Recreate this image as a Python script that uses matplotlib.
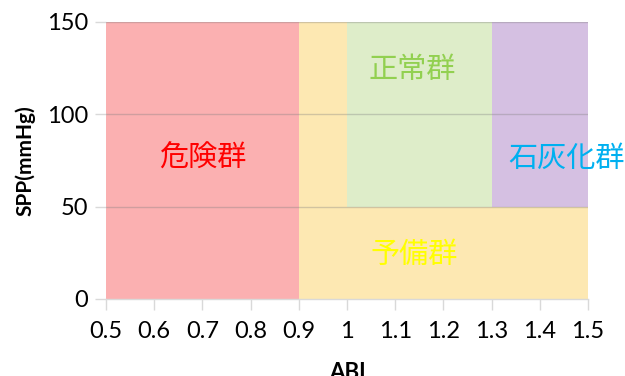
import matplotlib
matplotlib.use("Agg")
import matplotlib.pyplot as plt

# Zones of the ABI / SPP classification chart
zone_names = ["危険群", "予備群", "予備群", "正常群", "石灰化群"]
zone_abi_lo = [0.5, 0.9, 0.9, 1.0, 1.3]
zone_abi_hi = [0.9, 1.5, 1.0, 1.3, 1.5]
zone_spp_lo = [0, 0, 50, 50, 50]
zone_spp_hi = [150, 50, 150, 150, 150]
zone_colors = ["#FBB0B1", "#FDE8B2", "#FDE8B2", "#DEEDC9", "#D5C0E2"]

# Zone captions
label_texts = ["危険群", "正常群", "石灰化群", "予備群"]
label_abi = [0.70, 1.135, 1.455, 1.14]
label_spp = [76, 124, 76, 24]
label_colors = ["#FF0000", "#92D050", "#00B0F0", "#FFFF00"]

x_ticks = [0.5, 0.6, 0.7, 0.8, 0.9, 1.0, 1.1, 1.2, 1.3, 1.4, 1.5]
x_tick_labels = ["0.5", "0.6", "0.7", "0.8", "0.9", "1", "1.1", "1.2", "1.3", "1.4", "1.5"]
y_ticks = [0, 50, 100, 150]

fig = plt.figure(figsize=(6.25, 3.76), dpi=100)
ax = fig.add_axes([0.1696, 0.2048, 0.7712, 0.7367])

for lo, hi, b, t, c in zip(zone_abi_lo, zone_abi_hi, zone_spp_lo, zone_spp_hi, zone_colors):
    ax.bar(lo, t - b, width=hi - lo, bottom=b, align="edge", color=c,
           linewidth=0, zorder=1)

for yv in y_ticks[1:]:
    ax.axhline(yv, color="#7F7F7F", alpha=0.35, linewidth=1.0, zorder=2)

for txt, xv, yv, c in zip(label_texts, label_abi, label_spp, label_colors):
    ax.text(xv, yv, txt, color=c, fontsize=21, ha="center", va="center",
            family=["Noto Sans CJK JP", "DejaVu Sans"], zorder=3, clip_on=False)

ax.set_xlim(0.5, 1.5)
ax.set_ylim(0, 150)
ax.set_xticks(x_ticks)
ax.set_xticklabels(x_tick_labels)
ax.set_yticks(y_ticks)

for s in ["top", "right", "left"]:
    ax.spines[s].set_visible(False)
ax.spines["bottom"].set_color("#D9D9D9")
ax.spines["bottom"].set_linewidth(1.0)
ax.spines["bottom"].set_zorder(4)

ax.tick_params(axis="x", length=8, width=1, color="#D9D9D9", pad=8,
               labelsize=17, labelcolor="black")
ax.tick_params(axis="y", length=8, width=1, color="#D9D9D9", pad=5,
               labelsize=17, labelcolor="black")
for lab in ax.get_xticklabels() + ax.get_yticklabels():
    lab.set_family("Lato")

ax.set_xlabel("ABI", fontsize=16, fontweight="bold", family="Lato", labelpad=14)
ax.set_ylabel("SPP(mmHg)", fontsize=15, fontweight="bold", family="Lato", labelpad=8)

fig.savefig("out.png", dpi=100)
